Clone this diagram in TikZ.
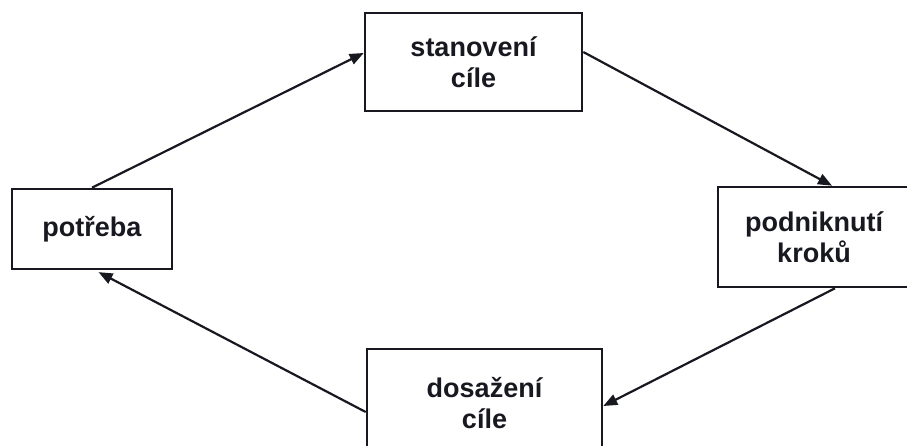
\documentclass[tikz,border=0pt]{standalone}
\usepackage{fontspec}
\setmainfont{Liberation Sans}
\usetikzlibrary{arrows.meta}
\definecolor{ink}{RGB}{24,24,32}
\tikzset{
  stepbox/.style={draw=ink, line width=2.6pt, fill=none, inner sep=0pt,
    align=center, text=ink,
    font=\fontsize{27}{31}\selectfont\bfseries},
  flow/.style={draw=ink, line width=2.2pt,
    -{Triangle[length=14pt,width=11pt]}}
}
\begin{document}
\begin{tikzpicture}[x=1pt, y=-1pt]
  \useasboundingbox (0,0) rectangle (907,446);
  \clip (0,0) rectangle (907,446);
  \fill[white] (0,0) rectangle (907,446);

  % the four stages of the cycle
  \node[stepbox, minimum width=217pt, minimum height=98pt]  (goal)   at (473.5,62) {stanovení\\cíle};
  \node[stepbox, minimum width=160pt, minimum height=80pt]  (need)   at (92,229)   {potřeba};
  \node[stepbox, minimum width=192pt, minimum height=100pt] (action) at (814,237)  {podniknutí\\kroků};
  \node[stepbox, minimum width=235pt, minimum height=108pt] (reach)  at (484.5,403) {dosažení\\cíle};

  % connectors running clockwise
  \draw[flow] (need.north) -- ([yshift=9pt]goal.west);
  \draw[flow] ([yshift=10pt]goal.east) -- ([xshift=18pt]action.north);
  \draw[flow] ([xshift=21pt]action.south) -- ([yshift=-3pt]reach.east);
  \draw[flow, shorten >=4pt] ([yshift=-9pt]reach.west) -- ([xshift=3pt]need.south);
\end{tikzpicture}
\end{document}
